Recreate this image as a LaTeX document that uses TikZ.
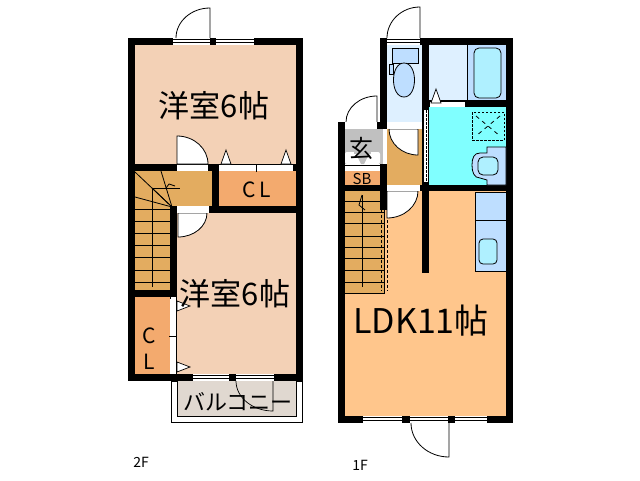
\documentclass[tikz,border=0pt]{standalone}
\usepackage{fontspec}
\usepackage{tikz}
\setmainfont{Noto Sans CJK JP}
\definecolor{roomc}{RGB}{243,209,182}
\definecolor{stairc}{RGB}{227,172,96}
\definecolor{closetc}{RGB}{243,170,110}
\definecolor{ldkc}{RGB}{255,198,140}
\definecolor{palec}{RGB}{222,240,255}
\definecolor{fixc}{RGB}{190,222,255}
\definecolor{tubc}{RGB}{175,240,255}
\definecolor{washc}{RGB}{128,255,255}
\definecolor{porchc}{RGB}{224,216,208}
\definecolor{entryc}{RGB}{192,192,192}

\begin{document}
\begin{tikzpicture}[
    x=1pt, y=-1pt,
    wall/.style={fill=black},
    leaf/.style={draw=black, fill=white, line width=0.8pt},
    pane/.style={fill=white},
    thin line/.style={draw=black, line width=0.8pt},
    label/.style={inner sep=0pt, text=black}]

    \useasboundingbox (0, 0) rectangle (640, 480);
    \fill [white] (0, 0) rectangle (640, 480);

    % 2F floors
    \fill [roomc] (135, 45) rectangle (296, 164);
    \fill [roomc] (177, 213) rectangle (296, 374);
    \fill [stairc] (135, 171) rectangle (212, 206);
    \fill [stairc] (135, 206) rectangle (170, 290);
    \fill [closetc] (219, 171) rectangle (296, 206);
    \fill [closetc] (135, 297) rectangle (170, 374);

    % balcony
    \draw [black, line width=0.8pt] (171, 381) rectangle (302, 422);
    \fill [porchc] (177, 381) rectangle (296, 416);
    \draw [black, line width=0.6pt] (177, 381) -- (177, 416) -- (296, 416) -- (296, 381);

    % 1F floors
    \fill [ldkc] (345, 191) rectangle (506, 416);
    \fill [palec] (387, 45) rectangle (422, 122);
    \fill [palec] (429, 45) rectangle (467, 102);
    \fill [fixc] (467, 45) rectangle (506, 100);
    \fill [washc] (429, 107) rectangle (506, 185);
    \fill [entryc] (345, 129) rectangle (383, 164);
    \fill [closetc] (345, 171) rectangle (380, 185);
    \fill [stairc] (387, 129) rectangle (422, 185);
    \fill [stairc] (345, 191) rectangle (384, 293);
    \draw [black, line width=0.6pt] (345, 293) -- (384, 293) -- (384, 210);

    % stairs
    \foreach \y in {209, 221, 233, 245, 257, 270, 282} {
      \draw [thin line] (135, \y) -- (170, \y);
    }
    \foreach \y in {201, 212, 223, 236, 247, 258, 270, 282} {
      \draw [thin line] (345, \y) -- (384, \y);
    }
    \draw [thin line] (152, 188) -- (152, 287);
    \draw [thin line] (152, 188) -- (180, 188);
    \draw [thin line] (172, 207) -- (135, 172);
    \draw [thin line] (172, 207) -- (161, 171);
    \draw [thin line] (172, 207) -- (135, 197);
    \draw [thin line] (172, 207) -- (152, 188);
    \draw [thin line] (166, 188) -- (169, 184) -- (175, 186);
    \draw [thin line] (362, 195) -- (362, 287);
    \draw [thin line] (362, 195) -- (359, 205) -- (365, 210);
    \foreach \x in {381, 387} {
      \draw [thin line, dash pattern=on 3pt off 2pt] (\x, 210) -- (\x, 291);
    }

    % walls 2F
    \fill [wall] (128, 38) rectangle (303, 45);
    \fill [wall] (128, 38) rectangle (135, 381);
    \fill [wall] (296, 38) rectangle (303, 381);
    \fill [wall] (128, 374) rectangle (303, 381);
    \fill [wall] (128, 164) rectangle (303, 171);
    \fill [wall] (212, 164) rectangle (219, 213);
    \fill [wall] (170, 206) rectangle (303, 213);
    \fill [wall] (170, 206) rectangle (177, 299);
    \fill [wall] (128, 290) rectangle (177, 297);

    % walls 1F
    \fill [wall] (380, 38) rectangle (513, 45);
    \fill [wall] (506, 38) rectangle (513, 423);
    \fill [wall] (380, 38) rectangle (387, 129);
    \fill [wall] (338, 122) rectangle (387, 129);
    \fill [wall] (338, 122) rectangle (345, 423);
    \fill [wall] (338, 416) rectangle (513, 423);
    \fill [wall] (338, 185) rectangle (513, 191);
    \fill [wall] (422, 38) rectangle (429, 273);
    \fill [wall] (429, 100) rectangle (506, 107);
    \fill [wall] (380, 164) rectangle (387, 210);

    % windows
    \foreach \xa/\xb/\ya in {173/210/38, 216/254/38, 193/229/374, 236/274/374, 363/402/416, 410/448/416, 455/487/416, 387/420/38} {
      \fill [pane] (\xa, \ya) rectangle (\xb, \ya+7);
      \draw [black, line width=1pt] (\xa, \ya+1) -- (\xb, \ya+1);
      \draw [black, line width=1pt] (\xa, \ya+4) -- (\xb, \ya+4);
    }

    % doors
    \draw [leaf] (210, 38) -- (210, 8) arc [start angle=90, end angle=180, x radius=34, y radius=-30];
    \draw [leaf] (420, 38) -- (420, 7) arc [start angle=90, end angle=180, x radius=33, y radius=-31];
    \draw [leaf] (377, 122) -- (377, 96) arc [start angle=90, end angle=180, x radius=31, y radius=-26];
    \draw [leaf] (177, 164) -- (177, 136) arc [start angle=90, end angle=0, x radius=31, y radius=-28] -- cycle;
    \draw [leaf] (178, 213) -- (178, 237) arc [start angle=-90, end angle=0, x radius=29, y radius=-24] -- cycle;
    \draw [leaf] (418, 129) -- (418, 155) arc [start angle=-90, end angle=-180, x radius=29, y radius=-26] -- cycle;
    \draw [leaf] (387, 191) -- (387, 218) arc [start angle=-90, end angle=0, x radius=31, y radius=-27] -- cycle;
    \draw [black, line width=0.8pt] (449, 423) -- (449, 457) arc [start angle=-90, end angle=-180, x radius=38, y radius=-34];
    \draw [black, line width=0.7pt] (273, 381) -- (273, 411) arc [start angle=-90, end angle=-180, x radius=37, y radius=-30];

    % door openings
    \fill [pane] (177, 165) rectangle (208, 171);
    \fill [pane] (219, 165) rectangle (293, 171);
    \draw [thin line] (256, 165) -- (256, 172);
    \fill [pane] (177, 206) rectangle (209, 213);
    \fill [pane] (345, 122) rectangle (377, 129);
    \fill [pane] (387, 122) rectangle (420, 129);
    \fill [pane] (387, 185) rectangle (420, 191);
    \fill [pane] (430, 102) rectangle (465, 107);
    \fill [pane] (424, 110) rectangle (428, 182);
    \draw [black, line width=0.6pt, dash pattern=on 3pt off 1pt] (426, 110) -- (426, 182);
    \fill [pane] (345, 164) rectangle (380, 170);
    \draw [black, line width=0.6pt] (345, 165.5) -- (380, 165.5);
    \fill [white] (171, 297) rectangle (176, 374);
    \draw [thin line] (176.5, 297) -- (176.5, 374);
    \draw [thin line] (169, 336) -- (177, 336);

    % folding door marks
    \foreach \xa/\ya in {226/150, 286/150, 436/89} {
      \draw [pane, draw=black, line width=0.7pt] (\xa, \ya) -- (\xa+5, \ya+14) -- (\xa-5, \ya+14) -- cycle;
    }
    \foreach \ya in {306, 367} {
      \draw [pane, draw=black, line width=0.7pt] (190, \ya) -- (177, \ya-5) -- (177, \ya+5) -- cycle;
    }

    % fixtures
    \draw [thin line, fill=fixc] (392, 48) rectangle (418, 63);
    \draw [thin line, fill=fixc] (389, 64) rectangle (393, 74);
    \draw [thin line, fill=fixc] (404, 63) .. controls (390, 63) and (390, 97) .. (404, 97)
    .. controls (418, 97) and (418, 63) .. (404, 63);
    \draw [thin line] (467, 45) -- (467, 100);
    \draw [thin line, fill=tubc, rounded corners=5pt] (474, 48) rectangle (501, 98);
    \draw [thin line, dash pattern=on 2.5pt off 1.5pt] (472, 112) rectangle (504, 140);
    \draw [thin line, dash pattern=on 4pt off 4pt] (476, 116) -- (500, 136);
    \draw [thin line, dash pattern=on 4pt off 4pt] (500, 116) -- (476, 136);
    \draw [thin line, fill=fixc] (506, 147) -- (487, 147) -- (487, 153) -- (480, 153)
    .. controls (474, 153) and (472, 158) .. (472, 165)
    .. controls (472, 172) and (474, 178) .. (480, 178) -- (487, 180) -- (487, 185) -- (506, 185) -- cycle;
    \draw [thin line, fill=tubc, rounded corners=5pt] (478, 157) rectangle (498, 175);
    \draw [thin line, fill=fixc] (475, 192) rectangle (506, 271);
    \draw [thin line] (475, 220) -- (506, 220);
    \draw [thin line, fill=tubc, rounded corners=4pt] (479, 239) rectangle (497, 264);
    \fill [white, rounded corners=2pt] (345, 152) rectangle (380, 164);
    \fill [entryc] (354, 151) rectangle (371, 154);
    \fill [entryc] (356, 154) -- (369, 154) -- (364, 164) -- (361, 164) -- cycle;

    \node [label, font=\fontsize{31}{31}\selectfont] (roomupper) at (214, 106) {洋室6帖};
    \node [label, font=\fontsize{31}{31}\selectfont] (roomlower) at (235, 294) {洋室6帖};
    \node [label, font=\fontsize{34}{34}\selectfont] (ldk) at (421, 321) {LDK11帖};
    \node [label, font=\fontsize{21}{21}\selectfont] (closetupper) at (257, 190) {C\,L};
    \node [label, font=\fontsize{21}{21}\selectfont] (closetc) at (149, 336) {C};
    \node [label, font=\fontsize{21}{21}\selectfont] (closetl) at (149, 362) {L};
    \node [label, font=\fontsize{24}{24}\selectfont] (entry) at (361, 148) {玄};
    \node [label, font=\fontsize{15}{15}\selectfont] (sb) at (362, 179) {SB};
    \node [label, font=\fontsize{22}{22}\selectfont] (porch) at (238, 402) {バルコニー};
    \node [label, font=\fontsize{14}{14}\selectfont] (floortwo) at (141, 462) {2F};
    \node [label, font=\fontsize{14}{14}\selectfont] (floorone) at (360, 465) {1F};

  \end{tikzpicture}
\end{document}
